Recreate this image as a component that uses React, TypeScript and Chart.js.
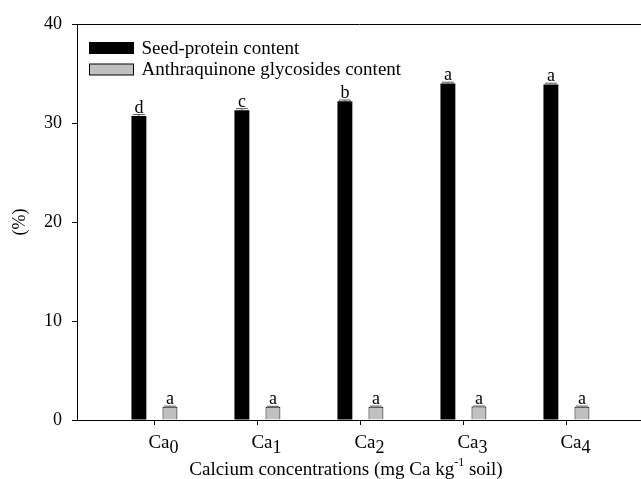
import React, { useEffect, useRef } from 'react';
import { Chart, registerables } from 'chart.js';

Chart.register(...registerables);

// ---- data ----
const categoryPrefix = 'Ca';
const categorySubs = ['0', '1', '2', '3', '4'];
const seriesNames = ['Seed-protein content', 'Anthraquinone glycosides content'];
const seedProtein = [30.7, 31.3, 32.2, 34.0, 33.9];
const seedProteinErr = [0.15, 0.15, 0.12, 0.12, 0.12];
const anthraquinone = [1.35, 1.33, 1.35, 1.36, 1.35];
const anthraquinoneErr = [0.05, 0.05, 0.05, 0.05, 0.05];
const proteinLetters = ['d', 'c', 'b', 'a', 'a'];
const anthraLetters = ['a', 'a', 'a', 'a', 'a'];
const yTickValues = [0, 10, 20, 30, 40];
const xTitleMain = 'Calcium concentrations (mg Ca kg';
const xTitleSup = '-1';
const xTitleEnd = ' soil)';
const yTitle = '(%)';

const SERIF = '"Liberation Serif", "Times New Roman", Times, serif';
const BLACK = '#000000';
const GREY = '#c0c0c0';

const annotatePlugin = {
  id: 'annotate',
  afterDatasetsDraw(chart: any) {
    const ctx = chart.ctx;
    const y = chart.scales.y;
    const sets: [number, number[], string[]][] = [
      [0, seedProteinErr, proteinLetters],
      [2, anthraquinoneErr, anthraLetters],
    ];
    ctx.save();
    for (const [di, errs, letters] of sets) {
      const meta = chart.getDatasetMeta(di);
      const data = chart.data.datasets[di].data as any[];
      meta.data.forEach((el: any, i: number) => {
        const v = data[i].y;
        const base = y.getPixelForValue(v);
        const top = y.getPixelForValue(v + errs[i]);
        ctx.strokeStyle = '#555555';
        ctx.lineWidth = 1;
        ctx.beginPath();
        ctx.moveTo(el.x, base);
        ctx.lineTo(el.x, top);
        ctx.moveTo(el.x - 6, top);
        ctx.lineTo(el.x + 6, top);
        ctx.stroke();
        ctx.fillStyle = '#000';
        ctx.font = `18px ${SERIF}`;
        ctx.textAlign = 'center';
        ctx.textBaseline = 'alphabetic';
        ctx.fillText(letters[i], el.x, top - 2);
      });
    }
    ctx.restore();
  },
  afterDraw(chart: any) {
    const ctx = chart.ctx;
    const area = chart.chartArea;
    const xs = chart.scales.x;
    ctx.save();
    // legend
    const items = [
      { fill: BLACK, stroke: BLACK },
      { fill: GREY, stroke: BLACK },
    ];
    items.forEach((it, i) => {
      const bx = area.left + 12.5;
      const by = area.top + 18.5 + i * 21.5;
      ctx.fillStyle = it.fill;
      ctx.fillRect(bx, by, 44, 11);
      ctx.strokeStyle = it.stroke;
      ctx.lineWidth = 1;
      ctx.strokeRect(bx, by, 44, 11);
      ctx.fillStyle = '#000';
      ctx.font = `19px ${SERIF}`;
      ctx.textAlign = 'left';
      ctx.textBaseline = 'alphabetic';
      ctx.fillText(chart.data.datasets[i === 0 ? 0 : 2].label, bx + 52, by + 11);
    });
    // x tick labels with subscripts
    categorySubs.forEach((sub, i) => {
      const px = xs.getPixelForValue(i);
      ctx.font = `19px ${SERIF}`;
      ctx.textAlign = 'left';
      ctx.fillStyle = '#000';
      const sx = px - 6;
      ctx.fillText(categoryPrefix, sx, area.bottom + 28);
      const w = ctx.measureText(categoryPrefix).width;
      ctx.font = `18px ${SERIF}`;
      ctx.fillText(sub, sx + w, area.bottom + 33);
    });
    // x title with superscript
    ctx.font = `19px ${SERIF}`;
    const w1 = ctx.measureText(xTitleMain).width;
    const w3 = ctx.measureText(xTitleEnd).width;
    ctx.font = `12px ${SERIF}`;
    const w2 = ctx.measureText(xTitleSup).width;
    const total = w1 + w2 + w3;
    const cx = area.left + 269;
    let tx = cx - total / 2;
    const baseY = area.bottom + 55;
    ctx.font = `19px ${SERIF}`;
    ctx.fillText(xTitleMain, tx, baseY);
    tx += w1;
    ctx.font = `12px ${SERIF}`;
    ctx.fillText(xTitleSup, tx, baseY - 9);
    tx += w2;
    ctx.font = `19px ${SERIF}`;
    ctx.fillText(xTitleEnd, tx, baseY);
    ctx.restore();
  },
};

export default function App() {
  const ref = useRef<HTMLCanvasElement | null>(null);

  useEffect(() => {
    if (!ref.current) return;
    const chart = new Chart(ref.current, {
      type: 'bar',
      data: {
        datasets: [
          {
            label: seriesNames[0],
            data: seedProtein.map((v, i) => ({ x: i, y: v })),
            backgroundColor: BLACK,
            borderColor: BLACK,
            borderWidth: 0,
          },
          {
            label: 'spacer',
            data: seedProtein.map((_, i) => ({ x: i, y: null })),
            backgroundColor: 'rgba(0,0,0,0)',
            borderWidth: 0,
          },
          {
            label: seriesNames[1],
            data: anthraquinone.map((v, i) => ({ x: i, y: v })),
            backgroundColor: GREY,
            borderColor: BLACK,
            borderWidth: 1,
          },
        ],
      } as any,
      plugins: [annotatePlugin],
      options: {
        responsive: false,
        animation: false,
        maintainAspectRatio: false,
        layout: { padding: 0 },
        datasets: {
          bar: { categoryPercentage: 0.452, barPercentage: 0.96 },
        } as any,
        plugins: {
          legend: { display: false },
          tooltip: { enabled: false },
        },
        scales: {
          x: {
            type: 'linear',
            position: 'bottom',
            min: -0.7515,
            max: 4.724,
            offset: false,
            ticks: {
              display: false,
              stepSize: 1,
              includeBounds: false,
            },
            grid: {
              display: true,
              offset: false,
              drawOnChartArea: false,
              drawTicks: true,
              tickLength: 5,
              color: BLACK,
            },
            border: { display: true, color: BLACK, width: 1 },
            afterFit: (s: any) => {
              s.height = 59;
            },
          },
          x2: {
            type: 'linear',
            axis: 'x',
            position: 'top',
            ticks: { display: false },
            grid: { display: false },
            border: { display: true, color: BLACK, width: 1 },
            afterFit: (s: any) => {
              s.height = 24;
            },
          },
          y: {
            type: 'linear',
            min: yTickValues[0],
            max: yTickValues[yTickValues.length - 1],
            afterBuildTicks: (s: any) => {
              s.ticks = yTickValues.map((v) => ({ value: v }));
            },
            ticks: {
              color: BLACK,
              padding: 10,
              font: { family: SERIF, size: 18 },
            },
            grid: {
              display: true,
              drawOnChartArea: false,
              drawTicks: true,
              tickLength: 5,
              color: BLACK,
            },
            border: { display: true, color: BLACK, width: 1 },
            title: {
              display: true,
              text: yTitle,
              color: BLACK,
              font: { family: SERIF, size: 18 },
              padding: { top: 9, bottom: 0 },
            },
            afterFit: (s: any) => {
              s.width = 77;
            },
          },
        } as any,
      },
    });
    return () => chart.destroy();
  }, []);

  return (
    <div style={{ position: 'absolute', left: 0, top: 0, width: 641, height: 479, background: '#fff' }}>
      <canvas ref={ref} width={641} height={479} style={{ display: 'block' }} />
    </div>
  );
}
